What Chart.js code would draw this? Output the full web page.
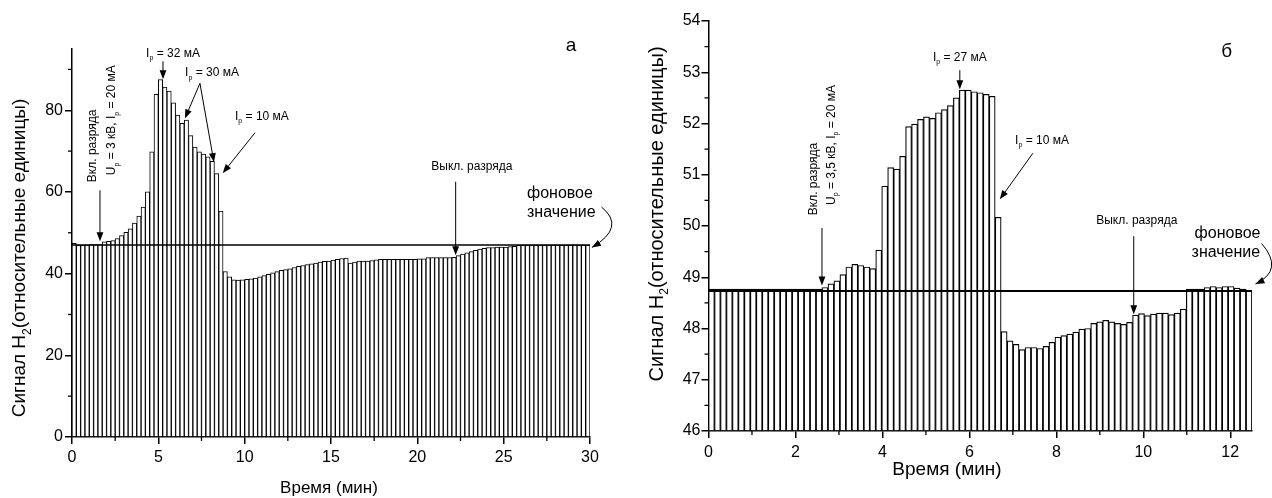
<!DOCTYPE html>
<html>
<head>
<meta charset="utf-8">
<script src="https://cdn.jsdelivr.net/npm/chart.js@4.4.0/dist/chart.umd.min.js"></script>
<style>
  body { margin: 0; background: #fff; }
  .wrap { position: absolute; top: 0; width: 636px; height: 498px; }
</style>
</head>
<body>
<div class="wrap" style="left:0"><canvas id="chart-a" width="636" height="498"></canvas></div>
<div class="wrap" style="left:636px"><canvas id="chart-b" width="636" height="498"></canvas></div>
<script>
// panel "а": H2 signal, one bar per 15 s, 0..30 min
const valuesA = [
  47.4, 46.9, 46.9, 47.0, 47.1, 47.1, 47.1,
  47.8, 47.9, 48.1, 48.6, 49.3, 50.1, 51.0, 52.4, 54.1, 56.3, 60.0, 69.8, 83.9,
  87.5, 85.7, 84.7, 81.8, 78.8, 76.8, 77.6, 73.8, 71.0, 69.8, 69.3, 68.6, 67.5, 64.5, 55.3,
  40.5, 39.2, 38.5, 38.4, 38.5, 38.6, 38.7, 38.9, 39.2, 39.5, 39.8, 40.2, 40.5, 40.8, 41.0,
  41.2, 41.5, 41.8, 42.0, 42.2, 42.4, 42.6, 42.8, 43.0, 43.1,
  43.3, 43.5, 43.7, 43.8, 42.6, 42.8, 43.1, 43.1, 43.1, 43.2,
  43.4, 43.5, 43.5, 43.5, 43.5, 43.5, 43.5, 43.5, 43.5, 43.5, 43.6, 43.6,
  43.9, 43.9, 43.9, 43.9, 43.9, 43.9, 44.0,
  44.4, 44.8, 45.1, 45.4, 45.7, 46.0, 46.2, 46.4,
  46.4, 46.5, 46.5, 46.5, 46.6, 46.7,
  46.9, 47.0, 47.0, 47.0, 47.0, 47.0, 47.0, 47.0, 47.0, 47.0, 47.0, 47.0, 47.0, 47.0, 47.0, 47.0, 47.0
];
const levelA = 47.0;
const xTicksA = [0, 5, 10, 15, 20, 25, 30];
const xMinorA = [2.5, 7.5, 12.5, 17.5, 22.5, 27.5];
const yTicksA = [0, 20, 40, 60, 80];
const yMinorA = [10, 30, 50, 70, 90];

// panel "б": H2 signal, 0..12.5 min
const valuesB = [
  48.77, 48.77, 48.77, 48.77, 48.77, 48.77, 48.77, 48.77, 48.77, 48.77,
  48.77, 48.77, 48.77, 48.77, 48.77, 48.77, 48.77, 48.77, 48.77,
  48.80, 48.87, 48.93, 49.05, 49.20, 49.25, 49.23, 49.20, 49.17, 49.53,
  50.78, 51.14, 51.11, 51.36, 51.94, 51.99, 52.08, 52.13, 52.10, 52.21,
  52.27, 52.35, 52.50, 52.65, 52.65, 52.62, 52.60, 52.57, 52.53, 50.17,
  47.94, 47.76, 47.69, 47.59, 47.63, 47.63, 47.61, 47.65, 47.73,
  47.83, 47.86, 47.89, 47.93, 47.99,
  48.00, 48.10, 48.13, 48.16, 48.13, 48.10, 48.08, 48.12, 48.26, 48.29,
  48.25, 48.28, 48.30, 48.30, 48.27, 48.30, 48.38,
  48.77, 48.77, 48.77, 48.80, 48.82, 48.80, 48.82, 48.82, 48.79, 48.77, 48.74
];
const levelB = 48.73;
const xTicksB = [0, 2, 4, 6, 8, 10, 12];
const xMinorB = [1, 3, 5, 7, 9, 11];
const yTicksB = [46, 47, 48, 49, 50, 51, 52, 53, 54];
const yMinorB = [46.5, 47.5, 48.5, 49.5, 50.5, 51.5, 52.5, 53.5];

const FONT = "'Liberation Sans', Arial, sans-serif";

function line(ctx, x1, y1, x2, y2) {
  ctx.beginPath();
  ctx.moveTo(x1, y1);
  ctx.lineTo(x2, y2);
  ctx.stroke();
}

function head(ctx, x, y, a, len) {
  const w = len * 0.38;
  ctx.beginPath();
  ctx.moveTo(x, y);
  ctx.lineTo(x - len * Math.cos(a) + w * Math.sin(a), y - len * Math.sin(a) - w * Math.cos(a));
  ctx.lineTo(x - len * Math.cos(a) - w * Math.sin(a), y - len * Math.sin(a) + w * Math.cos(a));
  ctx.closePath();
  ctx.fill();
}

function arrow(ctx, x1, y1, x2, y2) {
  const a = Math.atan2(y2 - y1, x2 - x1);
  line(ctx, x1, y1, x2 - Math.cos(a) * 6, y2 - Math.sin(a) * 6);
  head(ctx, x2, y2, a, 9);
}

// "_x" marks a one-character subscript
function parts(str) {
  const out = [];
  let buf = '';
  for (let i = 0; i < str.length; i++) {
    if (str[i] === '_' && i + 1 < str.length) {
      if (buf) out.push({ t: buf });
      out.push({ t: str[i + 1], sub: true });
      buf = '';
      i++;
    } else {
      buf += str[i];
    }
  }
  if (buf) out.push({ t: buf });
  return out;
}

function richText(ctx, str, x, y, size, align) {
  const ps = parts(str);
  const subSize = Math.round(size * 0.62);
  let w = 0;
  ps.forEach(p => {
    ctx.font = `${p.sub ? subSize : size}px ${FONT}`;
    p.w = ctx.measureText(p.t).width;
    w += p.w;
  });
  let cx = align === 'left' ? x : align === 'right' ? x - w : x - w / 2;
  ctx.textAlign = 'left';
  ctx.textBaseline = 'middle';
  ps.forEach(p => {
    ctx.font = `${p.sub ? subSize : size}px ${FONT}`;
    ctx.fillText(p.t, cx, p.sub ? y + size * 0.38 : y);
    cx += p.w;
  });
}

function noteText(ctx, n, x, y) {
  ctx.save();
  ctx.translate(x, y);
  if (n.rot) ctx.rotate(-Math.PI / 2);
  richText(ctx, n.s, 0, 0, n.size || 12, n.align || (n.rot ? 'left' : 'center'));
  ctx.restore();
}

const notesPlugin = {
  id: 'notes',
  afterDatasetsDraw(chart, args, o) {
    const ctx = chart.ctx;
    const xs = chart.scales.time, ys = chart.scales.y;
    const X = t => xs.getPixelForValue(t), Y = v => ys.getPixelForValue(v);
    ctx.save();
    ctx.fillStyle = '#000';
    ctx.strokeStyle = '#000';

    // minor ticks
    ctx.lineWidth = 1.3;
    o.xMinor.forEach(t => line(ctx, X(t), ys.bottom, X(t), ys.bottom + 4));
    o.yMinor.forEach(v => line(ctx, xs.left, Y(v), xs.left - 4, Y(v)));

    // background level
    ctx.lineWidth = o.levelWidth;
    line(ctx, xs.left, Y(o.level), xs.right, Y(o.level));

    // arrows
    ctx.lineWidth = 1;
    o.arrows.forEach(a => arrow(ctx, X(a[0]), Y(a[1]), X(a[2]), Y(a[3])));

    // curved arrow to the level line
    const c = o.curve;
    const p0 = [X(c[0]), Y(c[1])], pc = [X(c[2]), Y(c[3])], p2 = [X(c[4]), Y(c[5])];
    ctx.beginPath();
    ctx.moveTo(p0[0], p0[1]);
    ctx.quadraticCurveTo(pc[0], pc[1], p2[0], p2[1]);
    ctx.stroke();
    head(ctx, p2[0], p2[1], Math.atan2(p2[1] - pc[1], p2[0] - pc[0]), 9);

    o.texts.forEach(n => noteText(ctx, n, X(n.t), Y(n.v)));

    // axis titles
    noteText(ctx, { s: o.yTitle.s, size: o.yTitle.size, rot: true, align: 'center' }, o.yTitle.x, o.yTitle.y);
    noteText(ctx, { s: o.xTitle.s, size: o.xTitle.size }, o.xTitle.x, o.xTitle.y);
    ctx.restore();
  }
};

function makeChart(id, cfg) {
  const axisLine = { display: true, color: '#000', width: 1.5 };
  const tickGrid = { drawOnChartArea: false, color: '#000', lineWidth: 1.5, tickLength: 7, offset: false };
  const tickFont = { family: FONT, size: 16 };
  return new Chart(document.getElementById(id), {
    type: 'bar',
    data: {
      labels: cfg.values.map((_, i) => i),
      datasets: [{
        data: cfg.values,
        base: cfg.yMin,
        backgroundColor: '#fff',
        borderColor: '#000',
        borderWidth: cfg.barLine,
        barPercentage: 1,
        categoryPercentage: 1
      }]
    },
    options: {
      responsive: false,
      animation: false,
      events: [],
      layout: { padding: cfg.padding },
      plugins: { legend: { display: false }, tooltip: { enabled: false }, notes: cfg.notes },
      scales: {
        x: { type: 'category', display: false, offset: true },
        time: {
          type: 'linear', position: 'bottom', min: cfg.xMin, max: cfg.xMax, offset: false,
          afterBuildTicks: s => { s.ticks = cfg.xTicks.map(v => ({ value: v })); },
          afterFit: s => { s.height = cfg.xHeight; },
          border: axisLine, grid: tickGrid,
          ticks: { color: '#000', font: tickFont, padding: cfg.xPad, maxRotation: 0, autoSkip: false }
        },
        y: {
          min: cfg.yMin, max: cfg.yMax, offset: false,
          afterBuildTicks: s => { s.ticks = cfg.yTicks.map(v => ({ value: v })); },
          afterFit: s => { s.width = cfg.yWidth; },
          border: axisLine, grid: tickGrid,
          ticks: { color: '#000', font: tickFont, padding: cfg.yPad }
        }
      }
    },
    plugins: [notesPlugin]
  });
}

makeChart('chart-a', {
  values: valuesA, xMin: 0, xMax: 30, yMin: 0, yMax: 95,
  xTicks: xTicksA, yTicks: yTicksA, barLine: 1,
  padding: { top: 49, right: 46, bottom: 0, left: 0 },
  xHeight: 61, yWidth: 72, xPad: 4, yPad: 2,
  notes: {
    level: levelA, levelWidth: 1.5, xMinor: xMinorA, yMinor: yMinorA,
    arrows: [
      [1.62, 60.4, 1.62, 47.9],
      [5.27, 92.0, 5.27, 87.6],
      [7.41, 86.6, 6.54, 78.0],
      [7.41, 86.6, 8.22, 67.3],
      [10.6, 74.5, 8.73, 64.6],
      [22.22, 62.5, 22.22, 44.5]
    ],
    curve: [30.67, 56.3, 32.1, 51.4, 30.11, 46.4],
    texts: [
      { s: 'Вкл. разряда', t: 1.22, v: 62.4, rot: true },
      { s: 'U_p = 3 кВ, I_p = 20 мА', t: 2.32, v: 64.1, rot: true },
      { s: 'I_p = 32 мА', t: 5.85, v: 93.9 },
      { s: 'I_p = 30 мА', t: 8.11, v: 89.1 },
      { s: 'I_p = 10 мА', t: 11.0, v: 78.5 },
      { s: 'Выкл. разряда', t: 23.16, v: 66.1 },
      { s: 'фоновое', t: 26.35, v: 59.7, size: 16, align: 'left' },
      { s: 'значение', t: 26.35, v: 55.0, size: 16, align: 'left' },
      { s: 'а', t: 28.9, v: 95.9, size: 19 }
    ],
    yTitle: { s: 'Сигнал H_2(относительные единицы)', size: 19, x: 20, y: 258 },
    xTitle: { s: 'Время (мин)', size: 17, x: 329, y: 488 }
  }
});

makeChart('chart-b', {
  values: valuesB, xMin: 0, xMax: 12.5, yMin: 46, yMax: 54,
  xTicks: xTicksB, yTicks: yTicksB, barLine: 1.2,
  padding: { top: 21, right: 20, bottom: 0, left: 0 },
  xHeight: 67, yWidth: 72.5, xPad: 5, yPad: 1,
  notes: {
    level: levelB, levelWidth: 2, xMinor: xMinorB, yMinor: yMinorB,
    arrows: [
      [2.61, 49.96, 2.61, 48.84],
      [5.78, 53.04, 5.78, 52.67],
      [7.46, 51.42, 6.70, 50.52],
      [9.78, 49.8, 9.78, 48.28]
    ],
    curve: [12.72, 49.66, 13.25, 49.14, 12.58, 48.87],
    texts: [
      { s: 'Вкл. разряда', t: 2.41, v: 50.21, rot: true },
      { s: 'U_p = 3,5 кВ, I_p = 20 мА', t: 2.83, v: 50.41, rot: true },
      { s: 'I_p = 27 мА', t: 5.78, v: 53.29 },
      { s: 'I_p = 10 мА', t: 7.67, v: 51.67 },
      { s: 'Выкл. разряда', t: 9.85, v: 50.11 },
      { s: 'фоновое', t: 11.18, v: 49.86, size: 16, align: 'left' },
      { s: 'значение', t: 11.11, v: 49.49, size: 16, align: 'left' },
      { s: 'б', t: 11.92, v: 53.39, size: 19 }
    ],
    yTitle: { s: 'Сигнал H_2(относительные единицы)', size: 20, x: 21.5, y: 214 },
    xTitle: { s: 'Время (мин)', size: 19, x: 311, y: 470 }
  }
});
</script>
</body>
</html>
